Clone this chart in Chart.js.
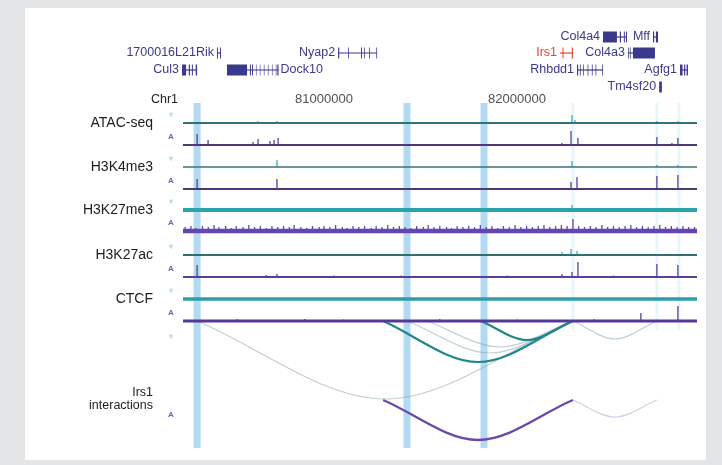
<!DOCTYPE html>
<html>
<head>
<meta charset="utf-8">
<script src="https://cdn.jsdelivr.net/npm/chart.js@4.4.1/dist/chart.umd.min.js"></script>
<style>
html, body { margin: 0; padding: 0; background: #e4e5e7; }
#wrap { position: relative; width: 722px; height: 465px; }
#panel { position: absolute; left: 25px; top: 8px; width: 681px; height: 452px; background: #fff; }
#chart { position: absolute; left: 0; top: 0; }
</style>
</head>
<body>
<div id="wrap">
  <div id="panel"></div>
  <canvas id="chart" width="722" height="465"></canvas>
</div>
<script>
// chr1 window shown (Mb) and axis ticks
const REGION = [80.269, 82.933];
const AXIS_TICKS = [81, 82];

const TRACK_NAMES = ['ATAC-seq', 'H3K4me3', 'H3K27me3', 'H3K27ac', 'CTCF'];

// peaks: [position Mb, height]
const ATAC_TEAL = [[80.658, 2], [80.756, 2], [82.285, 8], [82.300, 3], [82.725, 2], [82.834, 2]];
const ATAC_PURPLE = [[80.342, 11], [80.399, 5], [80.632, 3], [80.658, 6], [80.720, 4], [80.741, 5], [80.762, 7],
  [82.233, 2], [82.280, 14], [82.316, 7], [82.725, 8], [82.803, 2], [82.834, 7]];
const K4ME3_TEAL = [[80.756, 7], [82.285, 6], [82.725, 2], [82.834, 2]];
const K4ME3_PURPLE = [[80.342, 10], [80.756, 10], [82.280, 7], [82.311, 12], [82.725, 13], [82.834, 14]];
const K27ME3_TEAL = [[81.20, 1], [81.75, 1], [82.285, 5], [82.60, 1]];
const K27ME3_PURPLE = [[80.280, 4], [80.310, 5], [80.335, 3], [80.370, 5], [80.400, 4], [80.430, 6], [80.455, 4],
  [80.490, 5], [80.520, 3], [80.545, 5], [80.580, 4], [80.610, 6], [80.640, 4], [80.670, 5], [80.700, 3],
  [80.730, 5], [80.760, 4], [80.790, 5], [80.820, 4], [80.845, 6], [80.880, 4], [80.910, 3], [80.940, 5],
  [80.975, 4], [81.000, 5], [81.030, 4], [81.060, 6], [81.095, 4], [81.120, 3], [81.150, 5], [81.180, 4],
  [81.210, 5], [81.245, 3], [81.270, 5], [81.300, 4], [81.330, 6], [81.360, 4], [81.390, 5], [81.420, 4],
  [81.450, 3], [81.480, 5], [81.515, 4], [81.540, 6], [81.570, 4], [81.600, 5], [81.635, 4], [81.660, 3],
  [81.690, 5], [81.720, 4], [81.750, 5], [81.780, 4], [81.810, 6], [81.840, 4], [81.870, 5], [81.900, 3],
  [81.930, 5], [81.960, 4], [81.990, 6], [82.020, 4], [82.050, 5], [82.080, 4], [82.110, 5], [82.140, 6],
  [82.170, 4], [82.200, 5], [82.230, 6], [82.260, 5], [82.290, 12], [82.320, 5], [82.350, 4], [82.380, 5],
  [82.410, 4], [82.440, 6], [82.470, 4], [82.500, 5], [82.530, 4], [82.560, 5], [82.590, 6], [82.620, 4],
  [82.650, 5], [82.680, 4], [82.710, 5], [82.740, 6], [82.770, 4], [82.800, 5], [82.830, 4], [82.860, 5],
  [82.890, 4], [82.920, 4]];
const K27AC_TEAL = [[82.233, 3], [82.280, 6], [82.311, 4]];
const K27AC_PURPLE = [[80.342, 12], [80.700, 2], [80.756, 3], [81.05, 1.5], [81.40, 1.5], [81.95, 1.5],
  [82.233, 3], [82.285, 5], [82.316, 15], [82.500, 1.5], [82.725, 13], [82.834, 12]];
const CTCF_TEAL = [];
const CTCF_PURPLE = [[80.55, 2], [80.90, 2], [81.10, 1.5], [81.60, 2], [82.00, 1.5], [82.40, 2], [82.642, 8], [82.834, 15]];

// chromatin loops: [anchor A, anchor B, depth]
const CTCF_LOOPS_STRONG = [[81.306, 82.290, 41], [81.813, 82.290, 19]];
const CTCF_LOOPS_WEAK = [[81.430, 82.290, 32], [81.534, 82.290, 26], [80.342, 82.290, 78], [82.290, 82.725, 18]];
const IRS1_LOOPS_STRONG = [[81.306, 82.290, 40]];
const IRS1_LOOPS_WEAK = [[82.290, 82.725, 17]];

// highlighted loci
const HIGHLIGHTS = [80.342, 81.430, 81.829];
const FAINT_HIGHLIGHTS = [82.290, 82.725, 82.839];

// genes: exon blocks [start, end] in Mb
const GENE_NAMES = ['1700016L21Rik', 'Cul3', 'Dock10', 'Nyap2', 'Irs1', 'Rhbdd1', 'Col4a4', 'Col4a3', 'Mff', 'Tm4sf20', 'Agfg1'];
const GENE_ROWS = [1, 2, 2, 1, 1, 2, 0, 1, 0, 3, 2];
const GENE_EXONS = [
  [[80.445, 80.450], [80.461, 80.466]],
  [[80.264, 80.285], [80.299, 80.305], [80.315, 80.320], [80.335, 80.342]],
  [[80.497, 80.601], [80.606, 80.611], [80.616, 80.621], [80.627, 80.632], [80.647, 80.650], [80.667, 80.670],
    [80.688, 80.691], [80.709, 80.712], [80.730, 80.733], [80.750, 80.753], [80.758, 80.764]],
  [[81.073, 81.079], [81.088, 81.092], [81.109, 81.113], [81.124, 81.128], [81.140, 81.144], [81.161, 81.165],
    [81.192, 81.197], [81.207, 81.211], [81.233, 81.237], [81.254, 81.258], [81.271, 81.275]],
  [[82.223, 82.228], [82.236, 82.241], [82.284, 82.290]],
  [[82.311, 82.317], [82.326, 82.330], [82.342, 82.346], [82.366, 82.370], [82.388, 82.392], [82.407, 82.411], [82.442, 82.446]],
  [[82.446, 82.518], [82.533, 82.539], [82.554, 82.559], [82.565, 82.570]],
  [[82.575, 82.579], [82.585, 82.589], [82.601, 82.715]],
  [[82.705, 82.711], [82.720, 82.731]],
  [[82.737, 82.751]],
  [[82.845, 82.858], [82.866, 82.872], [82.879, 82.886]]
];
const HIGHLIGHT_GENE = 'Irs1';
const LABEL_RIGHT_GENES = ['Dock10'];

// layout (y in canvas rows)
const LAYOUT = {
  geneRowY: [37, 53, 70, 87],
  tealY: [123, 167, 210, 255, 299],
  purpleY: [145, 189, 231, 277, 321],
  irs1Y: 400,
  bandTop: 103, bandBottom: 448, faintBottom: 330,
  labelX: 153, markX: 171
};
const FONT = "'Liberation Sans', Arial, sans-serif";
const NAVY = '#3b398c';
const RED = '#e2472f';

function baseline(base) {
  return [{x: REGION[0], y: base}, {x: REGION[1], y: base}];
}

// vertical spikes, separated by gaps
function spikes(peaks, base) {
  const pts = [];
  peaks.forEach(([pos, h]) => pts.push({x: pos, y: base}, {x: pos, y: base - h}, {x: pos, y: null}));
  return pts;
}

function lineSet(data, color, width, extra) {
  return Object.assign({
    type: 'line', data: data, borderColor: color, borderWidth: width,
    pointRadius: 0, tension: 0, fill: false, clip: false,
    spanGaps: false, borderCapStyle: 'butt', borderJoinStyle: 'bevel'
  }, extra || {});
}

function arcSets(loops, base, color, width) {
  return loops.map(([a, b, d]) => lineSet([
    {x: a, y: base}, {x: (a + b) / 2, y: base + d}, {x: b, y: base}
  ], color, width, {cubicInterpolationMode: 'monotone'}));
}

const datasets = [];

// track signals
const tealSignals = [ATAC_TEAL, K4ME3_TEAL, K27ME3_TEAL, K27AC_TEAL, CTCF_TEAL];
const purpleSignals = [ATAC_PURPLE, K4ME3_PURPLE, K27ME3_PURPLE, K27AC_PURPLE, CTCF_PURPLE];
const tealStyle = [['#2f7479', 2], ['#3d7378', 1.6], ['#2aa3a9', 4], ['#2f6f74', 2], ['#2c9fa5', 3.5]];
const purpleStyle = [['#4e3878', 1.8], ['#4e3878', 1.8], ['#6446b0', 4.5], ['#5a3f96', 2], ['#55399a', 3]];
const purpleSpike = ['#5a4196', '#5a4196', '#6446b0', '#5a4196', '#5a4196'];
tealSignals.forEach((p, i) => {
  datasets.push(lineSet(baseline(LAYOUT.tealY[i]), tealStyle[i][0], tealStyle[i][1]));
  datasets.push(lineSet(spikes(p, LAYOUT.tealY[i]), '#49b4c3', 1.4));
});
purpleSignals.forEach((p, i) => {
  datasets.push(lineSet(baseline(LAYOUT.purpleY[i]), purpleStyle[i][0], purpleStyle[i][1]));
  datasets.push(lineSet(spikes(p, LAYOUT.purpleY[i]), purpleSpike[i], 1.3));
});

// loops
const ctcfBase = LAYOUT.purpleY[4];
datasets.push(...arcSets(CTCF_LOOPS_STRONG, ctcfBase, '#23868c', 2.2));
datasets.push(...arcSets(CTCF_LOOPS_WEAK, ctcfBase, 'rgba(140,170,172,0.55)', 1.2));
datasets.push(...arcSets(IRS1_LOOPS_STRONG, LAYOUT.irs1Y, '#6a4aa8', 2.4));
datasets.push(...arcSets(IRS1_LOOPS_WEAK, LAYOUT.irs1Y, 'rgba(170,160,195,0.5)', 1.2));

// genes
GENE_NAMES.forEach((name, i) => {
  const y = LAYOUT.geneRowY[GENE_ROWS[i]];
  const ex = GENE_EXONS[i];
  const color = name === HIGHLIGHT_GENE ? RED : NAVY;
  datasets.push(lineSet([{x: ex[0][0], y: y}, {x: ex[ex.length - 1][1], y: y}], color, 1.2));
  const blocks = [];
  ex.forEach(([s, e]) => blocks.push({x: s, y: y}, {x: e, y: y}, {x: e, y: null}));
  datasets.push(lineSet(blocks, color, 11));
});

// highlight bands (drawn underneath)
HIGHLIGHTS.forEach(pos => datasets.push(lineSet(
  [{x: pos, y: LAYOUT.bandTop}, {x: pos, y: LAYOUT.bandBottom}], 'rgba(115,188,232,0.55)', 7, {order: 10})));
FAINT_HIGHLIGHTS.forEach(pos => datasets.push(lineSet(
  [{x: pos, y: LAYOUT.bandTop}, {x: pos, y: LAYOUT.faintBottom}], 'rgba(140,205,235,0.2)', 3, {order: 10})));

const textPlugin = {
  id: 'trackText',
  afterDatasetsDraw(chart) {
    const {ctx, scales: {x, y}} = chart;
    ctx.save();
    ctx.textBaseline = 'middle';

    // gene names
    ctx.font = '12.5px ' + FONT;
    GENE_NAMES.forEach((name, i) => {
      const ex = GENE_EXONS[i];
      const yy = y.getPixelForValue(LAYOUT.geneRowY[GENE_ROWS[i]]);
      ctx.fillStyle = name === HIGHLIGHT_GENE ? RED : NAVY;
      if (LABEL_RIGHT_GENES.includes(name)) {
        ctx.textAlign = 'left';
        ctx.fillText(name, x.getPixelForValue(ex[ex.length - 1][1]) + 2, yy);
      } else {
        ctx.textAlign = 'right';
        ctx.fillText(name, x.getPixelForValue(ex[0][0]) - 3, yy);
      }
    });

    // chromosome
    ctx.fillStyle = '#222';
    ctx.font = '12.5px ' + FONT;
    ctx.textAlign = 'right';
    ctx.fillText('Chr1', 178, 100);

    // track names and strand marks
    TRACK_NAMES.forEach((name, i) => {
      ctx.fillStyle = '#1d1d1d';
      ctx.font = '14px ' + FONT;
      ctx.textAlign = 'right';
      ctx.fillText(name, LAYOUT.labelX, y.getPixelForValue(LAYOUT.tealY[i]));
      ctx.textAlign = 'center';
      ctx.font = 'bold 8px ' + FONT;
      ctx.fillStyle = '#b6dcea';
      ctx.fillText('\u25BE', LAYOUT.markX, y.getPixelForValue(LAYOUT.tealY[i]) - 8);
      ctx.fillStyle = '#7a5bb5';
      ctx.fillText('A', LAYOUT.markX, y.getPixelForValue(LAYOUT.purpleY[i]) - 8);
    });
    ctx.fillStyle = '#b6dcea';
    ctx.fillText('\u25BE', LAYOUT.markX, y.getPixelForValue(LAYOUT.purpleY[4]) + 16);
    ctx.fillStyle = '#7a5bb5';
    ctx.fillText('A', LAYOUT.markX, y.getPixelForValue(LAYOUT.irs1Y) + 15);

    ctx.fillStyle = '#1d1d1d';
    ctx.font = '12.5px ' + FONT;
    ctx.textAlign = 'right';
    ctx.fillText('Irs1', 153, y.getPixelForValue(LAYOUT.irs1Y) - 7);
    ctx.fillText('interactions', 153, y.getPixelForValue(LAYOUT.irs1Y) + 6);
    ctx.restore();
  }
};

new Chart(document.getElementById('chart'), {
  type: 'line',
  data: {datasets: datasets},
  options: {
    responsive: false,
    animation: false,
    events: [],
    layout: {padding: {left: 183, right: 25, top: 0, bottom: 0}},
    scales: {
      x: {
        type: 'linear',
        min: REGION[0],
        max: REGION[1],
        position: {y: 92},
        grid: {display: false, drawTicks: false},
        border: {display: false},
        afterBuildTicks: s => { s.ticks = AXIS_TICKS.map(v => ({value: v})); },
        ticks: {
          autoSkip: false, maxRotation: 0, padding: 0,
          color: '#505050',
          font: {size: 13, family: FONT},
          callback: v => String(Math.round(v * 1e6))
        }
      },
      y: {type: 'linear', min: 0, max: 465, reverse: true, display: false}
    },
    plugins: {legend: {display: false}, tooltip: {enabled: false}}
  },
  plugins: [textPlugin]
});
</script>
</body>
</html>
